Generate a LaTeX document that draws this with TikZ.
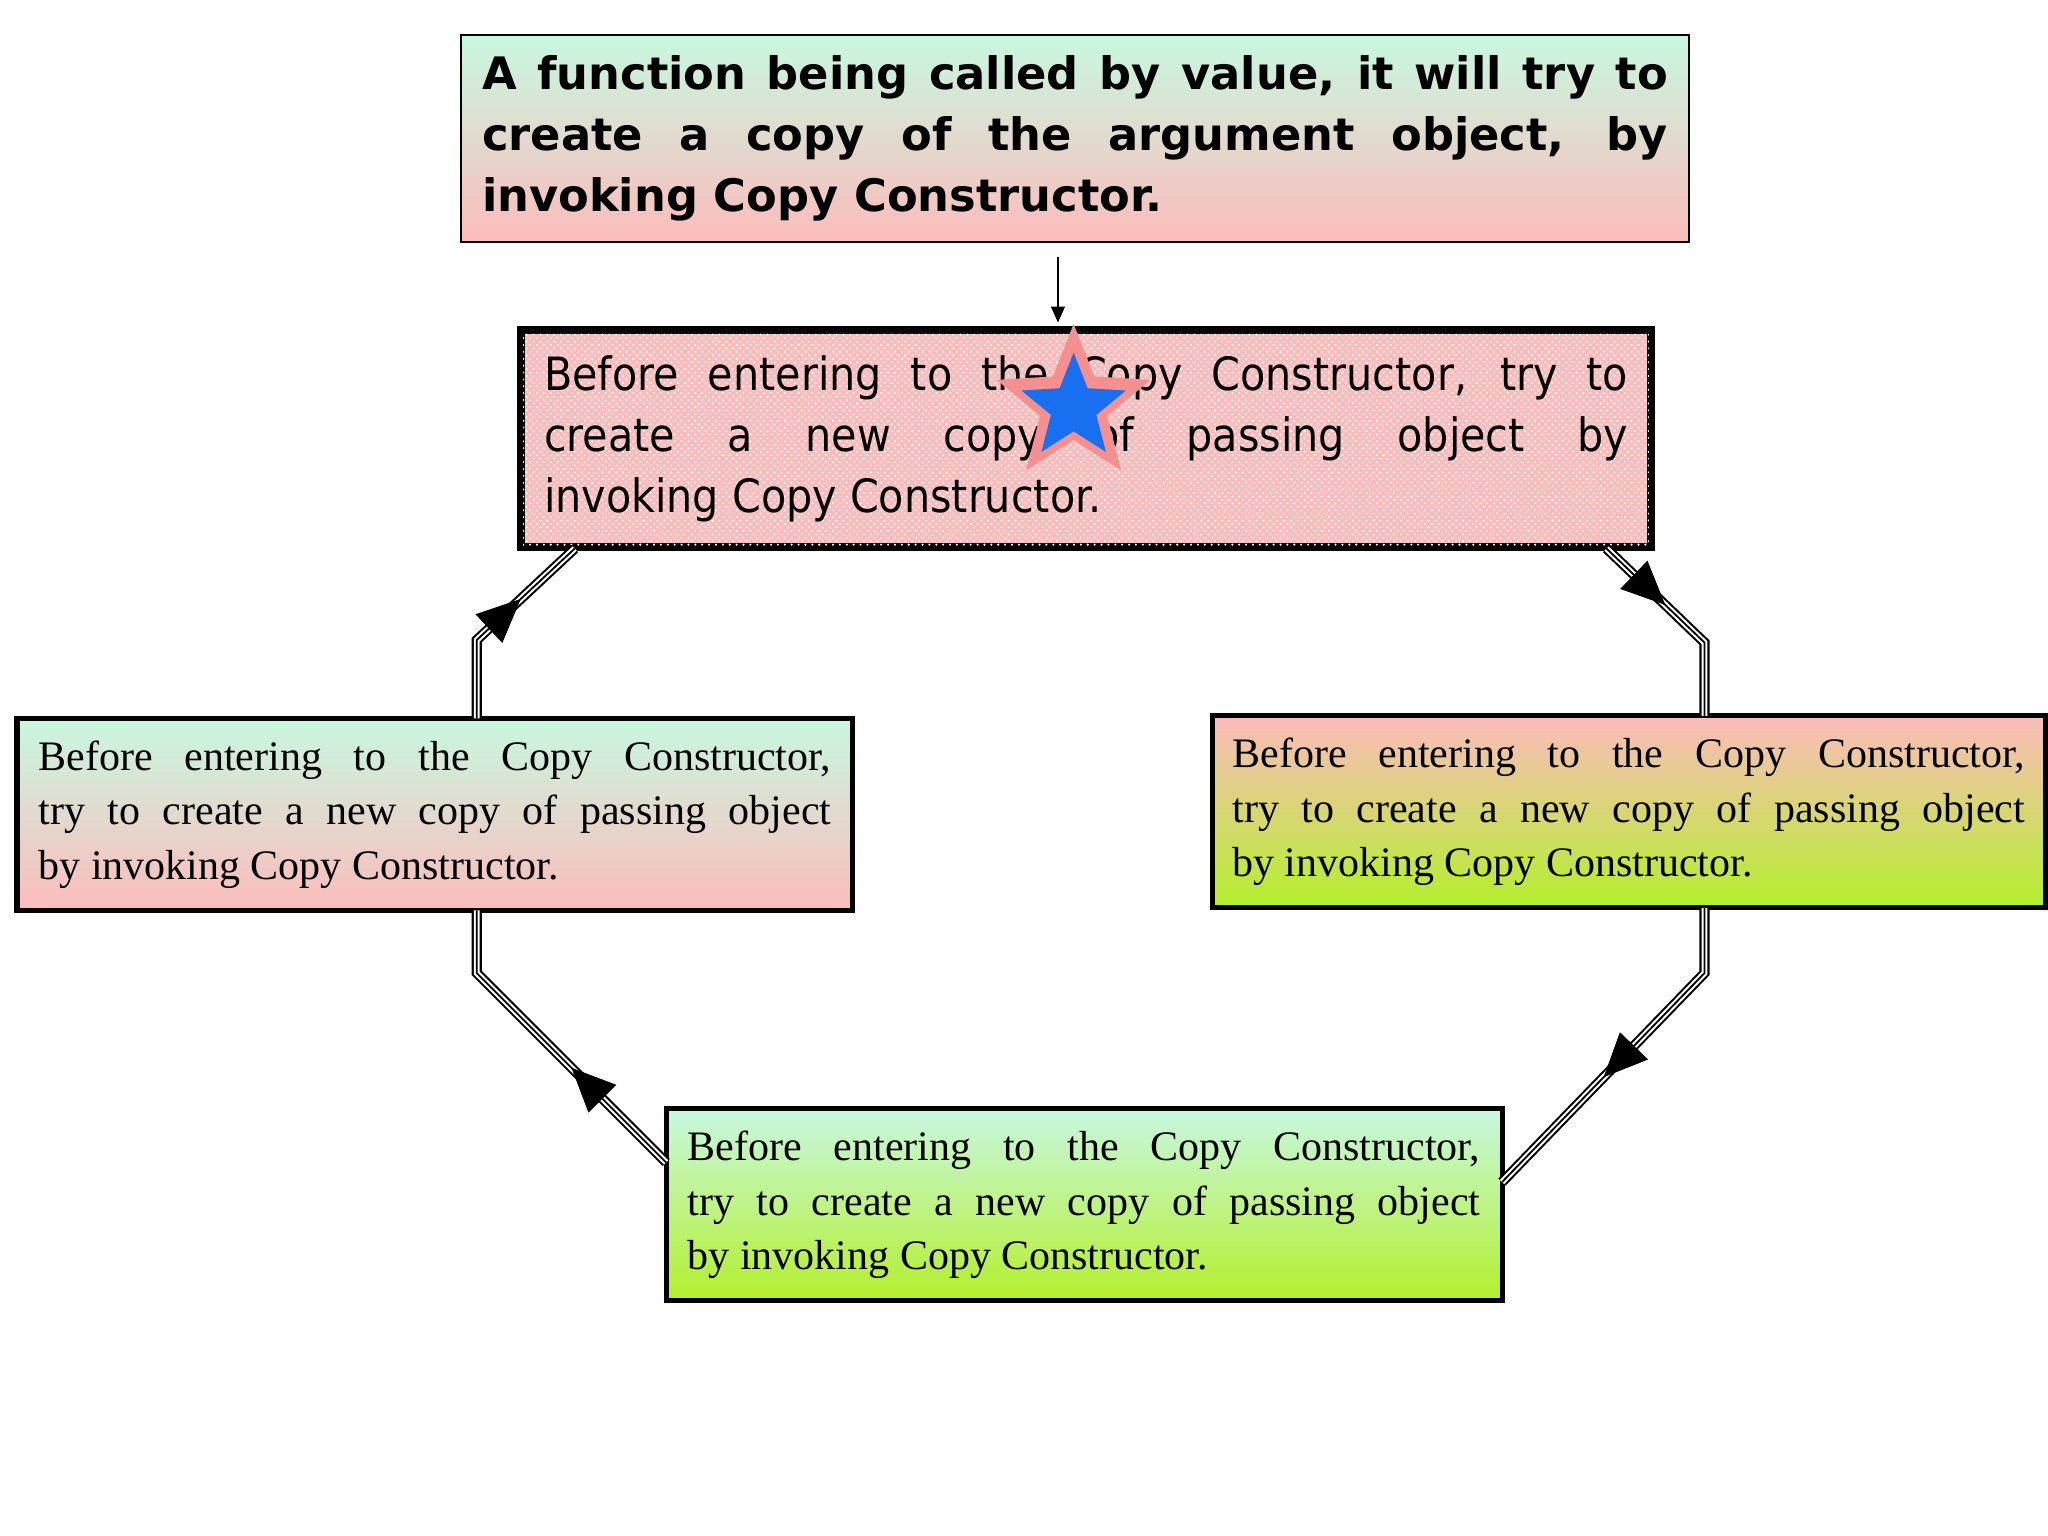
\documentclass[tikz,border=0pt]{standalone}
\usepackage{fontspec}
\setmainfont{Liberation Serif}
\newfontfamily\dvs{DejaVu Sans}
\newfontfamily\dvsc{DejaVu Sans Condensed}
\usetikzlibrary{patterns,shapes.geometric,decorations.markings,arrows.meta}
\definecolor{mint}{HTML}{C8F8E0}
\definecolor{rosy}{HTML}{FCBCBC}
\definecolor{lime}{HTML}{B4F02C}
\definecolor{starpink}{HTML}{F49090}
\definecolor{starblue}{HTML}{1870F0}
\tikzset{
  x=0.02cm,y=-0.02cm,
  box/.style={draw=black,line width=2.2pt,inner sep=0pt,align=justify},
  tri/.style={draw=black,line width=4.4pt,
    postaction={draw=white,line width=2.6pt},
    postaction={draw=black,line width=0.8pt}},
  midarrow/.style={postaction={decorate},decoration={markings,
    mark=at position #1 with {\arrow{Triangle[length=19pt,width=17pt]}}}}
}
\begin{document}
\begin{tikzpicture}
\hyphenpenalty=10000
\useasboundingbox[fill=white] (0,0) rectangle (1568,1176);
\node[draw=black,line width=0.8pt,top color=mint,bottom color=rosy,minimum width=940*0.02cm,minimum height=158*0.02cm,text width=18.16cm,align=justify,inner sep=0pt,font=\dvs\bfseries\fontsize{19.5}{26.6}\selectfont] (top) at (823,106)
{A function being called by value, it will try to\linebreak create a copy of the argument object, by\linebreak invoking Copy Constructor.};
\node[box,fill=rosy,minimum width=863*0.02cm,minimum height=164*0.02cm] (midbg) at (831.5,336) {};
\fill[pattern=crosshatch dots,pattern color=white] (midbg.south west) rectangle (midbg.north east);
\draw[line width=2.6pt] (midbg.south west) rectangle (midbg.north east);
\node[text width=16.6cm,align=justify,inner sep=0pt,font=\dvsc\fontsize{20}{26.6}\selectfont] (mid) at (831.5,336)
{Before entering to the Copy Constructor, try to\linebreak create a new copy of passing object by\linebreak invoking Copy Constructor.};
\node[star,star points=5,star point ratio=2.3,fill=starpink,minimum size=124*0.02cm,inner sep=0pt] (st) at (822,310) {};
\node[star,star points=5,star point ratio=2.3,fill=starblue,minimum size=84*0.02cm,inner sep=0pt] (st2) at (822,312) {};
\node[box,top color=mint,bottom color=rosy,minimum width=640*0.02cm,minimum height=147*0.02cm,text width=12.14cm,font=\fontsize{18.3}{23.8}\selectfont] (left) at (333,623.5)
{Before entering to the Copy Constructor,\linebreak try to create a new copy of passing object\linebreak by invoking Copy Constructor.};
\node[box,top color=rosy,bottom color=lime,minimum width=638*0.02cm,minimum height=147*0.02cm,text width=12.14cm,font=\fontsize{18.3}{23.8}\selectfont] (right) at (1247,621.5)
{Before entering to the Copy Constructor,\linebreak try to create a new copy of passing object\linebreak by invoking Copy Constructor.};
\node[box,top color=mint,bottom color=lime,minimum width=640*0.02cm,minimum height=147*0.02cm,text width=12.14cm,font=\fontsize{18.3}{23.8}\selectfont] (bot) at (830,922.5)
{Before entering to the Copy Constructor,\linebreak try to create a new copy of passing object\linebreak by invoking Copy Constructor.};
\coordinate (sa) at (810,197);
\draw[-{Triangle[length=7pt,width=6pt]},line width=0.8pt] (sa) -- (810,247);
\coordinate (a1) at (510,890); \coordinate (a2) at (365,745); \coordinate (a3) at (365,697);
\draw[tri,line join=miter] (a1) -- (a2) -- (a3);
\path[midarrow=0.5] (a1) -- (a2);
\coordinate (b1) at (365,550); \coordinate (b2) at (365,490); \coordinate (b3) at (440,420);
\draw[tri,line join=miter] (b1) -- (b2) -- (b3);
\path[midarrow=0.45] (b2) -- (b3);
\coordinate (c1) at (1230,420); \coordinate (c2) at (1305,492); \coordinate (c3) at (1305,548);
\draw[tri,line join=miter] (c1) -- (c2) -- (c3);
\path[midarrow=0.6] (c1) -- (c2);
\coordinate (d1) at (1305,695); \coordinate (d2) at (1305,745); \coordinate (d3) at (1150,905);
\draw[tri,line join=miter] (d1) -- (d2) -- (d3);
\path[midarrow=0.5] (d2) -- (d3);
\end{tikzpicture}
\end{document}
